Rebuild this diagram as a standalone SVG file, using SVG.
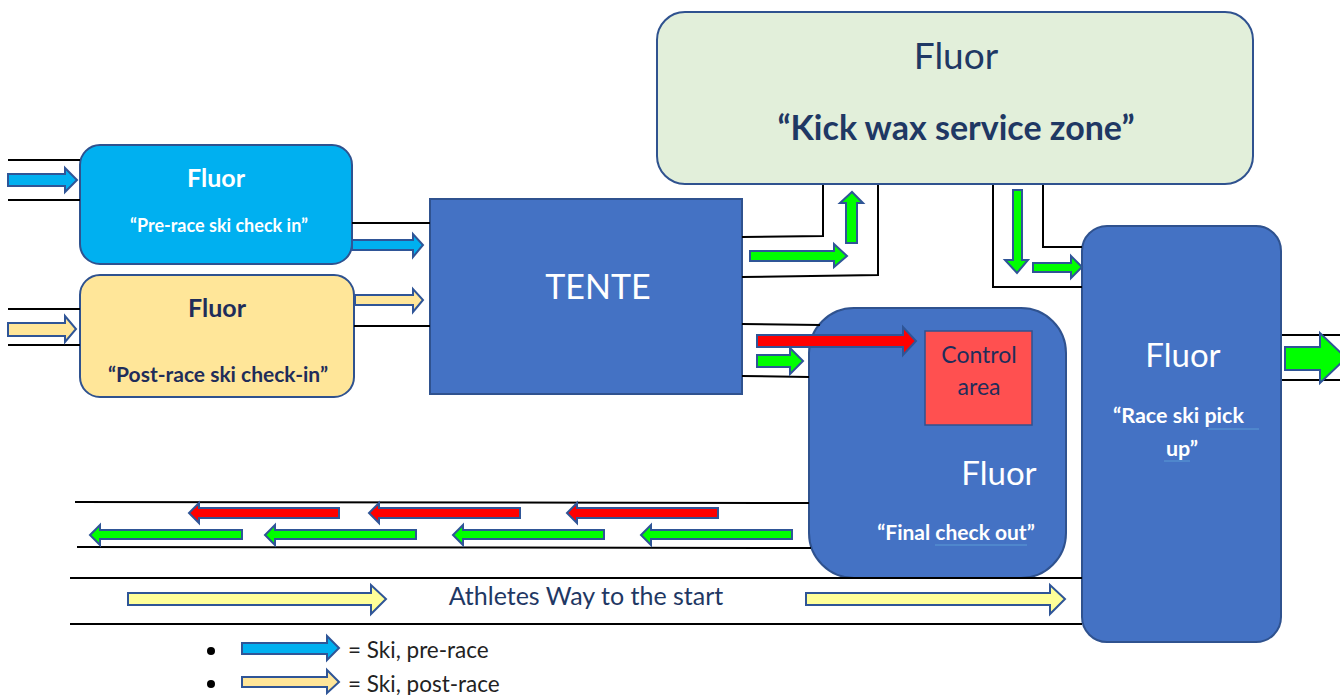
<svg xmlns="http://www.w3.org/2000/svg" width="1340" height="695" viewBox="0 0 1340 695">
<style>
.ln{stroke:#000;stroke-width:2;fill:none}
.box{stroke:#2F528F;stroke-width:2}
.blue{fill:#4472C4}
.arr{stroke:#2F5597;stroke-width:2;stroke-linejoin:miter}
.g{fill:#00FF00}.r{fill:#FF0000}.b{fill:#00B0F0}.y{fill:#FFE699}.ly{fill:#FFFF99}
text{font-family:Lato,"Liberation Sans",sans-serif;text-anchor:middle}
.w{fill:#fff}.n{fill:#1F2D5A}
.bd{font-weight:bold}
.ul{stroke:#5B9BD5;stroke-width:1}
</style>
<rect width="1340" height="695" fill="#fff"/>

<g id="pre-race">
  <rect class="box" x="80" y="145" width="272" height="119" rx="20" fill="#00B0F0"/>
  <text class="w bd" x="216" y="187" font-size="25">Fluor</text>
  <text class="w bd" x="219" y="232" font-size="18">“Pre-race ski check in”</text>
</g>

<g id="post-race">
  <rect class="box" x="80" y="275" width="274" height="122" rx="20" fill="#FFE699"/>
  <text class="n bd" x="217" y="317" font-size="25">Fluor</text>
  <text class="n bd" x="218" y="382" font-size="21">“Post-race ski check-in”</text>
</g>

<g id="tente">
  <rect class="box blue" x="430" y="199" width="312" height="195"/>
  <text class="w" x="598" y="299" font-size="34">TENTE</text>
</g>

<g id="kick-wax">
  <rect class="box" x="657" y="12" width="596" height="172" rx="28" fill="#E2EFDA"/>
  <text x="956" y="69" font-size="37" fill="#1F3864">Fluor</text>
  <text x="956" y="140" font-size="34" font-weight="bold" fill="#1F3864">“Kick wax service zone”</text>
</g>

<g id="final-check-out">
  <rect class="box blue" x="809" y="308" width="257" height="270" rx="45"/>
  <text class="w" x="999" y="485" font-size="33">Fluor</text>
  <text class="w bd" x="956" y="540" font-size="21">“Final check out”</text>
  <line class="ul" x1="935" y1="545" x2="1027" y2="545"/>
</g>

<g id="control-area">
  <rect x="925" y="331" width="107" height="94" fill="#FF5050" stroke="#2F528F" stroke-width="1.5"/>
  <text x="979" y="363" font-size="23" fill="#1F2D5A">Control</text>
  <text x="979" y="395" font-size="23" fill="#1F2D5A">area</text>
</g>

<g id="race-ski-pick-up">
  <rect class="box blue" x="1082" y="226" width="199" height="416" rx="25"/>
  <text class="w" x="1183" y="367" font-size="33">Fluor</text>
  <text class="w bd" x="1183" y="423" font-size="21.5" style="text-anchor:start" dx="-70">“Race ski pick</text>
  <text class="w bd" x="1182" y="456" font-size="21.5">up”</text>
  <line class="ul" x1="1208" y1="429" x2="1259" y2="429"/>
  <line class="ul" x1="1164" y1="461" x2="1190" y2="461"/>
</g>

<g id="athletes-way">
  <text x="586" y="605" font-size="25" fill="#1F3864">Athletes Way to the start</text>
</g>

<g id="legend">
  <circle cx="211" cy="651" r="4" fill="#000"/>
  <circle cx="211" cy="684" r="4" fill="#000"/>
  <polygon class="arr b" points="242,643 327,643 327,636 339,648 327,660 327,654 242,654"/>
  <polygon class="arr y" points="242,677 327,677 327,670 339,682 327,693 327,687 242,687"/>
  <text x="348" y="658" font-size="22.5" fill="#222" style="text-anchor:start">= Ski, pre-race</text>
  <text x="348" y="692" font-size="22.5" fill="#222" style="text-anchor:start">= Ski, post-race</text>
</g>

<g id="connectors">
  <line class="ln" x1="8" y1="160" x2="80" y2="160"/>
  <line class="ln" x1="8" y1="200" x2="80" y2="200"/>
  <line class="ln" x1="8" y1="309" x2="80" y2="309"/>
  <line class="ln" x1="8" y1="345" x2="80" y2="345"/>
  <line class="ln" x1="352" y1="223" x2="430" y2="223"/>
  <line class="ln" x1="354" y1="326" x2="430" y2="326"/>
  <polyline class="ln" points="742,237 823,236 823,185"/>
  <polyline class="ln" points="742,277 878,275 878,185"/>
  <line class="ln" x1="742" y1="324" x2="820" y2="325"/>
  <line class="ln" x1="742" y1="376" x2="809" y2="377"/>
  <polyline class="ln" points="993,185 993,287 1082,287"/>
  <polyline class="ln" points="1043,185 1043,247 1082,247"/>
  <line class="ln" x1="1282" y1="335" x2="1340" y2="335"/>
  <line class="ln" x1="1282" y1="380" x2="1340" y2="380"/>
  <line class="ln" x1="75" y1="502" x2="809" y2="503"/>
  <line class="ln" x1="77" y1="547" x2="811" y2="548"/>
  <line class="ln" x1="70" y1="578" x2="1082" y2="578"/>
  <line class="ln" x1="70" y1="624" x2="1082" y2="624"/>

  <polygon class="arr b" points="8,174 65,174 65,168 77,180 65,192 65,186 8,186"/>
  <polygon class="arr y" points="8,323 65,323 65,316 76,329 65,342 65,336 8,336"/>
  <polygon class="arr b" points="352,240 413,240 413,234 423,245 413,257 413,250 352,250"/>
  <polygon class="arr y" points="355,295 413,295 413,289 423,300 413,312 413,305 355,305"/>
  <polygon class="arr g" points="750,251 834,251 834,244 847,256 834,267 834,261 750,261"/>
  <polygon class="arr g" points="846,243 857,243 857,203 863,203 852,192 840,203 846,203"/>
  <polygon class="arr r" points="757,335 903,335 903,327 916,341 903,355 903,347 757,347"/>
  <polygon class="arr g" points="757,355 790,355 790,348 803,361 790,374 790,367 757,367"/>
  <polygon class="arr g" points="1013,190 1022,190 1022,260 1028,260 1017,273 1005,260 1013,260"/>
  <polygon class="arr g" points="1033,263 1071,263 1071,256 1082,267 1071,278 1071,272 1033,272"/>
  <polygon class="arr g" points="1285,347 1320,347 1320,333 1346,358 1320,383 1320,370 1285,370"/>

  <polygon class="arr r" points="339,508 199,508 199,503 189,513 199,523 199,518 339,518"/>
  <polygon class="arr r" points="520,508 379,508 379,503 369,513 379,523 379,518 520,518"/>
  <polygon class="arr r" points="718,508 577,508 577,503 567,513 577,523 577,518 718,518"/>
  <polygon class="arr g" points="242,530 100,530 100,525 90,535 100,545 100,539 242,539"/>
  <polygon class="arr g" points="416,530 275,530 275,525 265,535 275,545 275,539 416,539"/>
  <polygon class="arr g" points="604,530 463,530 463,525 453,535 463,545 463,539 604,539"/>
  <polygon class="arr g" points="792,530 651,530 651,525 641,535 651,545 651,539 792,539"/>

  <polygon class="arr ly" points="128,593 371,593 371,585 386,599 371,614 371,605 128,605"/>
  <polygon class="arr ly" points="806,593 1050,593 1050,585 1065,599 1050,614 1050,605 806,605"/>
</g>
</svg>
